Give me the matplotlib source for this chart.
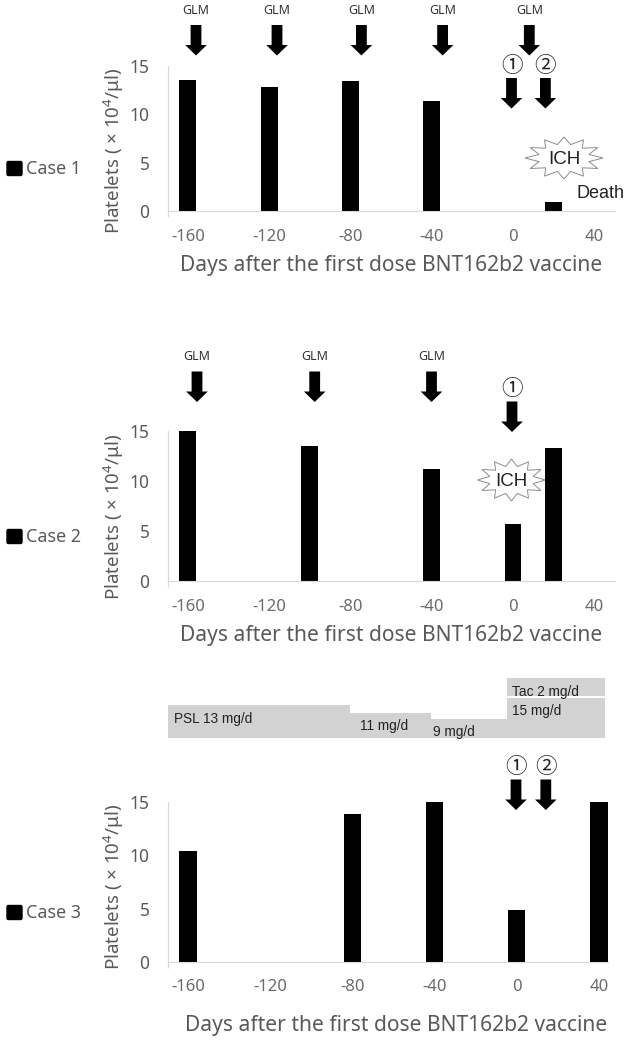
import numpy as np
import matplotlib
matplotlib.use('Agg')
import matplotlib.pyplot as plt
from matplotlib.patches import Polygon, Rectangle, FancyBboxPatch

width_px = 630
height_px = 1041

plt.rcParams['font.family'] = ['Noto Sans', 'DejaVu Sans']
plt.rcParams['mathtext.default'] = 'regular'
plt.rcParams['axes.unicode_minus'] = False

tick_days = [-160, -120, -80, -40, 0, 40]
y_ticks = [0, 5, 10, 15]

case1_days = [-160, -120, -80, -40, 20]
case1_platelets = [13.6, 12.8, 13.45, 11.35, 0.95]
case2_days = [-160, -100, -40, 0, 20]
case2_platelets = [15, 13.5, 11.2, 5.75, 13.3]
case3_days = [-160, -80, -40, 0, 40]
case3_platelets = [10.4, 13.85, 15, 4.85, 15]

grey_text = '#595959'
axis_grey = '#d9d9d9'
band_grey = '#d2d2d2'
y_label = 'Platelets ( × 10$^{4}$/μl)'
x_label = 'Days after the first dose BNT162b2 vaccine'


def make_axes(fig, left, right, top, bottom):
    ax = fig.add_axes([left / width_px, 1 - bottom / height_px,
                       (right - left) / width_px, (bottom - top) / height_px])
    ax.patch.set_visible(False)
    ax.set_zorder(2)
    return ax


def draw_case(fig, overlay, box, xlim, days, values, bar_width, ylabel_y, xlabel_x, xlabel_y, tick_pad):
    ax = make_axes(fig, *box)
    ax.bar(days, values, width=bar_width, color='black')
    ax.set_xlim(*xlim)
    ax.set_ylim(0, 15)
    ax.set_xticks(tick_days)
    ax.set_yticks(y_ticks)
    ax.tick_params(axis='x', length=0, pad=tick_pad, labelsize=12, labelcolor='#6a6a6a')
    ax.tick_params(axis='y', length=0, pad=13, labelsize=12.5, labelcolor=grey_text)
    ax.set_xticks([xlim[0]], minor=True)
    ax.tick_params(axis='x', which='minor', length=4.3, color=axis_grey, width=0.8)
    for side in ['top', 'right']:
        ax.spines[side].set_visible(False)
    for side in ['left', 'bottom']:
        ax.spines[side].set_color(axis_grey)
        ax.spines[side].set_linewidth(0.8)
    overlay.text(113.7, ylabel_y, y_label, rotation=90, ha='center', va='center',
                 fontsize=13.5, color=grey_text)
    overlay.text(xlabel_x, xlabel_y, x_label, ha='center', va='center',
                 fontsize=15.1, color=grey_text)
    return ax


def draw_arrow(overlay, x, top):
    # block arrow, 30 px tall
    shaft = 5.4
    head = 10.8
    pts = [(x - shaft, top), (x + shaft, top), (x + shaft, top + 20), (x + head, top + 20),
           (x, top + 30.5), (x - head, top + 20), (x - shaft, top + 20)]
    overlay.add_patch(Polygon(pts, closed=True, color='black', lw=0))


def draw_star(overlay, cx, cy, rx, ry, label):
    n = 12
    angles = np.linspace(0, 2 * np.pi, 2 * n, endpoint=False)
    radius = np.where(np.arange(2 * n) % 2 == 0, 1.0, 0.66)
    pts = np.column_stack([cx + rx * radius * np.cos(angles), cy + ry * radius * np.sin(angles)])
    overlay.add_patch(Polygon(pts, closed=True, facecolor='white', edgecolor='#8c8c8c', lw=0.7))
    overlay.text(cx, cy + 1.5, label, ha='center', va='center', fontsize=13.5,
                 family='Liberation Sans', color='#222222')


def circled(overlay, x, y, label):
    overlay.text(x, y + 1.5, label, ha='center', va='center', fontsize=15.5,
                 family=['Noto Sans CJK JP', 'DejaVu Sans'], color='#222222')


def glm(overlay, x, y):
    overlay.text(x, y, 'GLM', ha='center', va='center', fontsize=9, color='#333333')


def case_key(overlay, y, label):
    overlay.add_patch(FancyBboxPatch((7, y - 7), 15, 14, boxstyle='round,pad=0,rounding_size=1.5',
                                     facecolor='black', edgecolor='black', lw=1))
    overlay.text(26, y, label, ha='left', va='center', fontsize=12.9, color=grey_text)


fig = plt.figure(figsize=(width_px / 100, height_px / 100), dpi=100)

# full figure layer in pixel units for the annotations, sits under the bars
overlay = fig.add_axes([0, 0, 1, 1])
overlay.set_xlim(0, width_px)
overlay.set_ylim(height_px, 0)
overlay.axis('off')
overlay.set_zorder(1)

draw_case(fig, overlay, (167.5, 615.3, 66, 211), (-170, 50.3), case1_days, case1_platelets, 8.3, 151, 391, 265, 13)
draw_case(fig, overlay, (167.5, 615.3, 431.3, 581), (-170, 50.3), case2_days, case2_platelets, 8.3, 517, 391, 635, 13)
draw_case(fig, overlay, (167.5, 608.4, 801.7, 962.3), (-170, 44.6), case3_days, case3_platelets, 8.4, 887, 396, 1025, 12)

# case 1 annotations
for x in [196, 277, 361.4, 442.6, 529.3]:
    glm(overlay, x, 11)
    draw_arrow(overlay, x, 25)
for x, label in zip([511.5, 545.4], ['①', '②']):
    circled(overlay, x, 64, label)
    draw_arrow(overlay, x, 78)
draw_star(overlay, 564, 158, 39, 21, 'ICH')
overlay.text(600.5, 193, 'Death', ha='center', va='center', fontsize=13,
             family='Liberation Sans', color='#222222')
case_key(overlay, 168.5, 'Case 1')

# case 2 annotations
for x in [197, 314.7, 431.5]:
    glm(overlay, x, 357)
    draw_arrow(overlay, x, 371.5)
circled(overlay, 512, 387.5, '①')
draw_arrow(overlay, 512, 401.5)
draw_star(overlay, 511.5, 480, 34, 21, 'ICH')
case_key(overlay, 536.5, 'Case 2')

# case 3 annotations, drug doses above the chart
dose_bands = [(167.9, 350.2, 705.3), (350.2, 430.9, 713.3), (430.9, 506.8, 719), (506.8, 605.2, 698)]
for x0, x1, top in dose_bands:
    overlay.add_patch(Rectangle((x0, top), x1 - x0, 738.3 - top, color=band_grey, lw=0))
overlay.add_patch(Rectangle((506.8, 678.3), 98.4, 17.4, color=band_grey, lw=0))
dose_labels = [(173.5, 718.5, 'PSL 13 mg/d'), (359.8, 726, '11 mg/d'), (432.9, 731.7, '9 mg/d'),
               (512, 711, '15 mg/d'), (512, 691.7, 'Tac 2 mg/d')]
for x, y, label in dose_labels:
    overlay.text(x, y, label, ha='left', va='center', fontsize=9.8,
                 family='Liberation Sans', color='#222222')
for x, label in zip([516, 545.8], ['①', '②']):
    circled(overlay, x, 765.7, label)
    draw_arrow(overlay, x, 779.5)
case_key(overlay, 912.5, 'Case 3')

fig.savefig('out.png', dpi=100)
